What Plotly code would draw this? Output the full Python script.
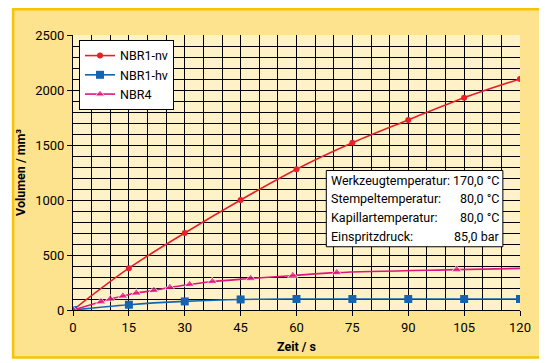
import plotly.graph_objects as go

# Data
t_nv = [0, 15, 30, 45, 60, 75, 90, 105, 120]
v_nv = [0, 380, 700, 1000, 1280, 1520, 1728, 1930, 2100]

t_hv = [0, 15, 30, 45, 60, 75, 90, 105, 120]
v_hv = [0, 48, 78, 96, 100, 100, 100, 100, 100]

t_n4 = [0, 7.5, 10, 13.4, 17, 21.7, 26, 31.3, 37.4, 47.7, 59, 70.8, 103, 120]
v_n4 = [0, 75, 100, 127, 154, 178, 205, 232, 259, 286, 313, 340, 367, 378]

info_labels = ["Werkzeugtemperatur:", "Stempeltemperatur:", "Kapillartemperatur:", "Einspritzdruck:"]
info_values = ["170,0 °C", "80,0 °C", "80,0 °C", "85,0 bar"]

FONT = "Roboto"
RED = "#e8202a"
BLUE = "#1464b4"
PINK = "#e0147a"

fig = go.Figure()
fig.add_trace(go.Scatter(x=t_nv, y=v_nv, name="NBR1-nv", mode="lines+markers",
                         line=dict(color=RED, width=1.6, shape="spline"),
                         marker=dict(symbol="circle", size=6, color=RED)))
fig.add_trace(go.Scatter(x=t_hv, y=v_hv, name="NBR1-hv", mode="lines+markers",
                         line=dict(color=BLUE, width=1.6, shape="spline"),
                         marker=dict(symbol="square", size=8, color=BLUE)))
sizes = [9] * (len(t_n4) - 1) + [0]
fig.add_trace(go.Scatter(x=t_n4, y=v_n4, name="NBR4", mode="lines+markers",
                         line=dict(color=PINK, width=1.6, shape="spline"),
                         marker=dict(symbol="triangle-up", size=sizes, color=PINK)))

shapes = [
    dict(type="rect", xref="paper", yref="paper", x0=-0.134, x1=1.047, y0=-0.1727, y1=1.0935,
         fillcolor="#fee38e", line=dict(color="#f6c400", width=2.5), layer="below"),
    dict(type="rect", xref="x domain", yref="y domain", x0=0, x1=1, y0=0, y1=1,
         fillcolor="#fff2c9", line=dict(width=0), layer="below"),
    dict(type="rect", xref="x", yref="y", x0=68, x1=115.4, y0=575, y1=1268,
         fillcolor="white", line=dict(color="black", width=1), layer="above"),
]

annotations = []
ys = [1180, 1010, 840, 670]
for lab, val, yy in zip(info_labels, info_values, ys):
    annotations.append(dict(x=68.6, y=yy, xref="x", yref="y", text=lab, showarrow=False,
                            xanchor="left", yanchor="middle", font=dict(family=FONT, size=12.5, color="black")))
    annotations.append(dict(x=115.0, y=yy, xref="x", yref="y", text=val, showarrow=False,
                            xanchor="right", yanchor="middle", font=dict(family=FONT, size=12.5, color="black")))

fig.update_layout(
    width=539, height=355,
    margin=dict(l=64, r=27, t=27, b=50),
    paper_bgcolor="white",
    plot_bgcolor="rgba(0,0,0,0)",
    font=dict(family=FONT, size=13, color="black"),
    shapes=shapes,
    annotations=annotations,
    showlegend=True,
    legend=dict(x=0.0134, y=0.982, xanchor="left", yanchor="top",
                bgcolor="white", bordercolor="black", borderwidth=1,
                font=dict(family=FONT, size=12.5), itemwidth=30,
                tracegroupgap=0),
    xaxis=dict(range=[0, 120], tick0=0, dtick=15, ticks="outside", ticklen=5, tickcolor="black",
               showline=True, linecolor="black", linewidth=1, mirror=False,
               showgrid=True, gridcolor="black", gridwidth=1, zeroline=False,
               minor=dict(dtick=5, showgrid=True, gridcolor="black", gridwidth=1),
               title=dict(text="<b>Zeit / s</b>", font=dict(family=FONT, size=12.5), standoff=8)),
    yaxis=dict(range=[0, 2500], tick0=0, dtick=500, ticks="outside", ticklen=5, tickcolor="black",
               showline=True, linecolor="black", linewidth=1,
               showgrid=True, gridcolor="black", gridwidth=1, zeroline=False,
               minor=dict(dtick=100, showgrid=True, gridcolor="black", gridwidth=1),
               title=dict(text="<b>Volumen / mm³</b>", font=dict(family=FONT, size=12.5), standoff=6)),
)

fig.write_html("out.html")
